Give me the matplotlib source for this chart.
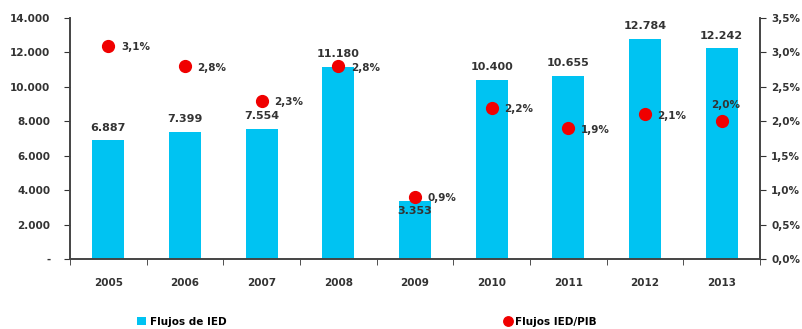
import matplotlib.pyplot as plt
from matplotlib.ticker import FixedLocator

years = ["2005", "2006", "2007", "2008", "2009", "2010", "2011", "2012", "2013"]
flujos_ied = [6887, 7399, 7554, 11180, 3353, 10400, 10655, 12784, 12242]
ied_pib = [3.1, 2.8, 2.3, 2.8, 0.9, 2.2, 1.9, 2.1, 2.0]

left_ticks = [0, 2000, 4000, 6000, 8000, 10000, 12000, 14000]
right_ticks = [0.0, 0.5, 1.0, 1.5, 2.0, 2.5, 3.0, 3.5]

txt = "#333333"
cyan = "#00C3F2"
red = "#F00000"

plt.rcParams['font.family'] = ['DejaVu Sans']
plt.rcParams['font.size'] = 7.5
plt.rcParams['font.weight'] = 'bold'


def miles(v):
    if v == 0:
        return "-"
    return "{:,}".format(int(v)).replace(",", ".")


fig = plt.figure(figsize=(8.02, 3.29), dpi=100)
ax = fig.add_axes([70/802, 1-259/329, 690/802, 241/329])
ax2 = ax.twinx()

x = list(range(len(years)))
bars = ax.bar(x, flujos_ied, width=0.42, color=cyan, zorder=2)
ax.set_xlim(-0.5, len(years) - 0.5)
ax.set_ylim(0, 14000)
ax.set_yticks(left_ticks)
ax.set_yticklabels([miles(v) for v in left_ticks])
ax.set_xticks(x)
ax.set_xticklabels(years)
ax.xaxis.set_minor_locator(FixedLocator([i + 0.5 for i in range(-1, len(years))]))
ax.tick_params(axis='x', which='major', length=0, pad=14, colors=txt)
ax.tick_params(axis='x', which='minor', length=4, direction='out', color=txt)
ax.tick_params(axis='y', length=4, direction='out', colors=txt, pad=10)

for i, v in enumerate(flujos_ied):
    if years[i] == "2009":
        ax.annotate(miles(v), (i, v), xytext=(0, -7), textcoords='offset points',
                    ha='center', va='center', color=txt, fontsize=8)
    else:
        ax.annotate(miles(v), (i, v), xytext=(0, 9), textcoords='offset points',
                    ha='center', va='center', color=txt, fontsize=8)

dots, = ax2.plot(x, ied_pib, 'o', color=red, markersize=8.5, linestyle='none', zorder=3)
ax2.set_ylim(0, 3.5)
ax2.set_yticks(right_ticks)
ax2.set_yticklabels(["{:.1f}%".format(v).replace(".", ",") for v in right_ticks])
ax2.tick_params(axis='y', length=4, direction='out', colors=txt, pad=4)

for i, v in enumerate(ied_pib):
    lab = "{:.1f}%".format(v).replace(".", ",")
    if years[i] == "2013":
        ax2.annotate(lab, (i, v), xytext=(3, 12), textcoords='offset points',
                     ha='center', va='center', color=txt, fontsize=7.5)
    else:
        ax2.annotate(lab, (i, v), xytext=(9, -1), textcoords='offset points',
                     ha='left', va='center', color=txt, fontsize=7.5)

for a in (ax, ax2):
    a.spines['top'].set_visible(False)
    for s in ('left', 'right', 'bottom'):
        a.spines[s].set_color("#444444")
        a.spines[s].set_linewidth(1.2)

fig.legend(handles=[bars], labels=["Flujos de IED"], loc='center left',
           bbox_to_anchor=(128/802, 1-322/329), frameon=False,
           handlelength=0.8, handleheight=0.8, handletextpad=0.4, fontsize=7.5)
fig.legend(handles=[dots], labels=["Flujos IED/PIB"], loc='center left',
           bbox_to_anchor=(494/802, 1-322/329), frameon=False,
           handlelength=0.8, handletextpad=0.3, fontsize=7.5, markerscale=0.8)

fig.savefig("out.png", dpi=100)
